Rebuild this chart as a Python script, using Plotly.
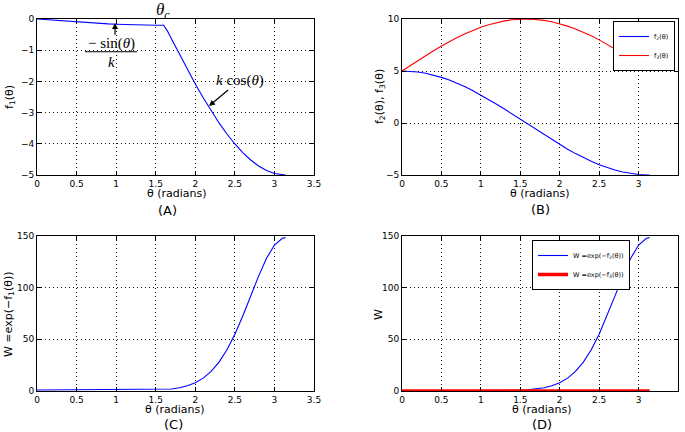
import plotly.graph_objects as go

# ---------------- data ----------------
theta = [0.0, 0.1, 0.2, 0.3, 0.4, 0.5, 0.6, 0.7, 0.8, 0.9, 1.0, 1.1, 1.2, 1.3, 1.4, 1.5, 1.6,
         1.65, 1.7, 1.8, 1.9, 2.0, 2.1, 2.2, 2.3, 2.4, 2.5, 2.6, 2.7, 2.8, 2.9, 3.0, 3.1, 3.14]

f1 = [0.0, -0.020, -0.040, -0.059, -0.078, -0.096, -0.113, -0.129, -0.143, -0.157, -0.168,
      -0.178, -0.186, -0.193, -0.197, -0.1995, -0.200,
      -0.396, -0.644, -1.136, -1.616, -2.081, -2.524, -2.943, -3.331, -3.687, -4.006,
      -4.285, -4.520, -4.711, -4.855, -4.950, -4.996, -5.000]

f2 = [5.000, 4.975, 4.900, 4.777, 4.605, 4.388, 4.127, 3.824, 3.484, 3.108, 2.702, 2.268,
      1.812, 1.338, 0.850, 0.354, -0.146, -0.396, -0.644, -1.136, -1.616, -2.081, -2.524,
      -2.943, -3.331, -3.687, -4.006, -4.285, -4.520, -4.711, -4.855, -4.950, -4.996, -5.000]

f3 = [5.000, 5.499, 5.993, 6.478, 6.947, 7.397, 7.823, 8.221, 8.587, 8.917, 9.207, 9.456,
      9.660, 9.818, 9.927, 9.987, 9.998, 9.985, 9.958, 9.869, 9.731, 9.546, 9.316, 9.042,
      8.729, 8.378, 7.992, 7.578, 7.137, 6.675, 6.196, 5.706, 5.208, 5.008]

w1 = [1.000, 1.020, 1.041, 1.061, 1.081, 1.101, 1.120, 1.138, 1.154, 1.170, 1.183, 1.195,
      1.204, 1.213, 1.218, 1.221, 1.221, 1.486, 1.904, 3.114, 5.033, 8.01, 12.48, 18.97,
      27.97, 39.93, 54.92, 72.6, 91.8, 111.2, 128.4, 141.2, 147.8, 148.4]

w2 = [0.0067, 0.0069, 0.0074, 0.0084, 0.0100, 0.0124, 0.0161, 0.0218, 0.0307, 0.0447, 0.067,
      0.1035, 0.1633, 0.2624, 0.4274, 0.702, 1.157, 1.486, 1.904, 3.114, 5.033, 8.01, 12.48,
      18.97, 27.97, 39.93, 54.92, 72.6, 91.8, 111.2, 128.4, 141.2, 147.8, 148.4]

w3 = [0.0067, 0.0041, 0.0025, 0.0015, 0.0010, 0.0006, 0.0004, 0.0003, 0.0002, 0.0001, 0.0001,
      0.0001, 0.0001, 0.0001, 0.0000, 0.0000, 0.0000, 0.0000, 0.0000, 0.0001, 0.0001, 0.0001,
      0.0001, 0.0001, 0.0002, 0.0002, 0.0003, 0.0005, 0.0008, 0.0013, 0.0020, 0.0033, 0.0055, 0.0067]

x_ticks = [0, 0.5, 1, 1.5, 2, 2.5, 3, 3.5]

BLUE = "#0000ff"
RED = "#ff0000"
W, H = 685, 432

fig = go.Figure()
fig.add_trace(go.Scatter(x=theta, y=f1, mode="lines", line=dict(color=BLUE, width=1.1),
                         xaxis="x", yaxis="y", showlegend=False))
fig.add_trace(go.Scatter(x=theta, y=f2, mode="lines", line=dict(color=BLUE, width=1.1),
                         xaxis="x2", yaxis="y2", name="f<sub>2</sub>(θ)", legend="legend"))
fig.add_trace(go.Scatter(x=theta, y=f3, mode="lines", line=dict(color=RED, width=1.1),
                         xaxis="x2", yaxis="y2", name="f<sub>3</sub>(θ)", legend="legend"))
fig.add_trace(go.Scatter(x=theta, y=w1, mode="lines", line=dict(color=BLUE, width=1.1),
                         xaxis="x3", yaxis="y3", showlegend=False))
fig.add_trace(go.Scatter(x=theta, y=w2, mode="lines", line=dict(color=BLUE, width=1.1),
                         xaxis="x4", yaxis="y4", name="W =exp(−f<sub>2</sub>(θ))", legend="legend2"))
fig.add_trace(go.Scatter(x=theta, y=w3, mode="lines", line=dict(color=RED, width=3.5),
                         xaxis="x4", yaxis="y4", name="W =exp(−f<sub>3</sub>(θ))", legend="legend2"))


def axis(domain, rng, dtick, anchor, tickvals=None):
    d = dict(domain=domain, range=rng, anchor=anchor, showline=True, linecolor="black",
             linewidth=1, mirror="ticks", ticks="inside", ticklen=4, tickcolor="black",
             showgrid=True, gridcolor="#111111", griddash="1px,3px", gridwidth=0.7,
             zeroline=False, automargin=False,
             tickfont=dict(family="DejaVu Sans", size=9, color="black"),
             fixedrange=True)
    if tickvals is not None:
        d["tickvals"] = tickvals
    else:
        d["dtick"] = dtick
        d["tick0"] = rng[0]
    return d


xl = [37 / W, 314 / W]
xr = [402 / W, 678 / W]
yt = [1 - 175 / H, 1 - 19 / H]
yb = [1 - 391 / H, 1 - 236 / H]

fig.update_layout(
    xaxis=axis(xl, [0, 3.5], None, "y", x_ticks),
    yaxis=axis(yt, [-5, 0], 1, "x"),
    xaxis2=axis(xr, [0, 3.5], None, "y2", x_ticks),
    yaxis2=axis(yt, [-5, 10], 5, "x2"),
    xaxis3=axis(xl, [0, 3.5], None, "y3", x_ticks),
    yaxis3=axis(yb, [0, 150], 50, "x3"),
    xaxis4=axis(xr, [0, 3.5], None, "y4", x_ticks),
    yaxis4=axis(yb, [0, 150], 50, "x4"),
)

legend_common = dict(bgcolor="white", bordercolor="black", borderwidth=1,
                     font=dict(family="DejaVu Sans", size=6.5, color="black"),
                     itemwidth=30, tracegroupgap=0)
fig.update_layout(
    legend=dict(x=675 / W, xanchor="right", y=1 - 21 / H, yanchor="top", **legend_common),
    legend2=dict(x=532 / W, xanchor="left", y=1 - 240 / H, yanchor="top", **legend_common),
)

ann = []
lab_font = dict(family="DejaVu Sans", size=11, color="black")
pan_font = dict(family="DejaVu Sans", size=13, color="black")


def pa(text, x, y, font, angle=0):
    ann.append(dict(text=text, x=x / W, y=1 - y / H, xref="paper", yref="paper",
                    xanchor="center", yanchor="middle", showarrow=False, font=font,
                    textangle=angle))


# x titles and panel labels
pa("θ (radians)", 177, 193, lab_font)
pa("(A)", 167, 210, pan_font)
pa("θ (radians)", 540, 193, lab_font)
pa("(B)", 540, 209, pan_font)
pa("θ (radians)", 175, 409, lab_font)
pa("(C)", 173, 424, pan_font)
pa("θ (radians)", 542, 409, lab_font)
pa("(D)", 542, 424, pan_font)
# y titles
pa("f<sub>1</sub>(θ)", 10, 97, lab_font, -90)
pa("f<sub>2</sub>(θ), f<sub>3</sub>(θ)", 380, 97, lab_font, -90)
pa("W =exp(−f<sub>1</sub>(θ))", 9, 314, lab_font, -90)
pa("W", 378, 315, lab_font, -90)

math_font = dict(family="Liberation Serif", size=15, color="black")
# theta_c label
ann.append(dict(text="<i>θ</i><sub><i>c</i></sub>", x=1.59, y=1 - 11 / H, xref="x", yref="paper",
                showarrow=False, font=dict(family="Liberation Serif", size=17, color="black"),
                xanchor="center", yanchor="middle"))
# -sin(theta)/k fraction
ann.append(dict(text="− sin(<i>θ</i>)", x=0.935, y=-0.78, xref="x", yref="y", showarrow=False,
                font=math_font, xanchor="center", yanchor="middle"))
ann.append(dict(text="<i>k</i>", x=0.935, y=-1.38, xref="x", yref="y", showarrow=False,
                font=math_font, xanchor="center", yanchor="middle"))
ann.append(dict(text="", x=0.986, y=-0.13, ax=0.986, ay=-0.55, xref="x", yref="y",
                axref="x", ayref="y", showarrow=True, arrowhead=2, arrowsize=1,
                arrowwidth=1.2, arrowcolor="black"))
# k cos(theta)
ann.append(dict(text="<i>k</i> cos(<i>θ</i>)", x=2.173, y=-2.79, ax=2.565, ay=-1.955,
                xref="x", yref="y", axref="x", ayref="y", showarrow=True, arrowhead=2,
                arrowsize=1, arrowwidth=1.2, arrowcolor="black", font=math_font))

shapes = [dict(type="line", xref="x", yref="y", x0=0.606, x1=1.264, y0=-1.05, y1=-1.05,
               line=dict(color="black", width=1))]

fig.update_layout(annotations=ann, shapes=shapes, width=W, height=H,
                  margin=dict(l=0, r=0, t=0, b=0, autoexpand=False), paper_bgcolor="white",
                  plot_bgcolor="white", font=dict(family="DejaVu Sans", color="black"))

fig.write_html("out.html", config={"displayModeBar": False},
               post_script="document.body.style.margin='0';document.body.style.overflow='hidden';")
